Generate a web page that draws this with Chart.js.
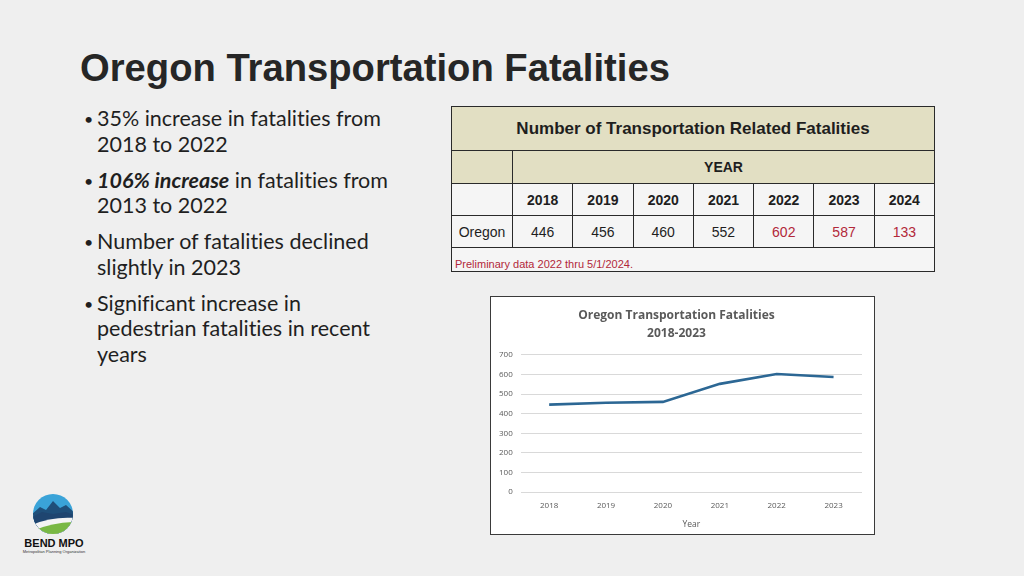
<!DOCTYPE html>
<html>
<head>
<meta charset="utf-8">
<script src="https://cdn.jsdelivr.net/npm/chart.js@4/dist/chart.umd.min.js"></script>
<style>
  html, body { margin: 0; padding: 0; }
  body { width: 1024px; height: 576px; background: #efefef; position: relative; overflow: hidden; font-family: "Liberation Sans", Arial, sans-serif; }
  h1 { position: absolute; left: 80px; top: 46px; margin: 0; font-size: 38.2px; font-weight: bold; color: #262626; }
  ul.points { position: absolute; left: 76px; top: 106px; width: 312px; margin: 0; padding: 0; list-style: none; font-family: Lato, "Open Sans", sans-serif; font-size: 21.5px; line-height: 25.6px; color: #1f1f1f; font-variant-ligatures: none; }
  ul.points li { position: relative; padding-left: 21px; margin-bottom: 10.4px; }
  ul.points li::before { content: "\2022"; position: absolute; left: 8px; top: 0; font-size: 16px; }
  ul.points .em { font-weight: bold; font-style: italic; }
  table.fat { position: absolute; left: 451px; top: 106px; width: 484px; border-collapse: collapse; font-family: "Liberation Sans", Arial, sans-serif; table-layout: fixed; }
  table.fat td { border: 1.5px solid #2a2a2a; text-align: center; padding: 0; font-size: 14px; color: #1e1e1e; background: #f5f5f5; }
  table.fat tr.head td { background: #e2dfc3; height: 43px; font-weight: bold; font-size: 17px; }
  table.fat tr.yr td { background: #e2dfc3; height: 32px; font-weight: bold; font-size: 14px; }
  table.fat tr.years td { height: 31px; font-weight: bold; }
  table.fat tr.vals td { height: 31px; }
  table.fat td.red { color: #b2283a; }
  table.fat tr.note td { height: 22px; text-align: left; font-size: 11px; color: #b2283a; padding-left: 3px; vertical-align: bottom; padding-bottom: 1px; }
  #box { position: absolute; left: 490px; top: 296px; width: 383px; height: 237px; background: #fff; border: 1.5px solid #3a3a3a; }
  #box canvas { position: absolute; left: 0; top: 0; }
  #logo { position: absolute; left: 20px; top: 492px; }
</style>
</head>
<body>
<h1>Oregon Transportation Fatalities</h1>
<ul class="points">
  <li>35% increase in fatalities from 2018 to 2022</li>
  <li><span class="em">106% increase</span> in fatalities from 2013 to 2022</li>
  <li>Number of fatalities declined slightly in 2023</li>
  <li>Significant increase in pedestrian fatalities in recent years</li>
</ul>

<table class="fat" id="fatTable"></table>

<div id="box"><canvas id="lineChart" width="383" height="237"></canvas></div>

<svg id="logo" width="68" height="62" viewBox="0 0 68 62">
  <defs><clipPath id="c"><circle cx="33" cy="22" r="20"/></clipPath></defs>
  <g clip-path="url(#c)">
    <rect x="0" y="0" width="68" height="44" fill="#3aa3d8"/>
    <path d="M10 24 L20 15 L26 18 L33 9 L40 16 L46 13 L56 22 L56 44 L10 44 Z" fill="#1f4f7a"/>
    <path d="M10 26 L22 20 L33 22 L46 20 L56 24 L56 44 L10 44 Z" fill="#1f4570"/>
    <path d="M10 34 Q30 24 56 26 L56 44 L10 44 Z" fill="#f4f4f4"/>
    <path d="M10 40 Q32 30 56 30 L56 44 L10 44 Z" fill="#79b844"/>
  </g>
  <text x="34" y="55" text-anchor="middle" font-family="Liberation Sans, Arial" font-weight="bold" font-size="11" fill="#111">BEND MPO</text>
  <text x="34" y="61" text-anchor="middle" font-family="Liberation Sans, Arial" font-size="4" fill="#333">Metropolitan Planning Organization</text>
</svg>

<script>
// table data
const tableYears = ['2018', '2019', '2020', '2021', '2022', '2023', '2024'];
const tableValues = [446, 456, 460, 552, 602, 587, 133];
const preliminaryYears = ['2022', '2023', '2024'];

// chart data
const chartYears = ['2018', '2019', '2020', '2021', '2022', '2023'];
const chartValues = [446, 456, 460, 552, 602, 587];
const yTicks = [0, 100, 200, 300, 400, 500, 600, 700];

// Build table
const table = document.getElementById('fatTable');
table.innerHTML = `
  <colgroup><col style="width:61px">${tableYears.map(() => '<col>').join('')}</colgroup>
  <tr class="head"><td colspan="8">Number of Transportation Related Fatalities</td></tr>
  <tr class="yr"><td></td><td colspan="7">YEAR</td></tr>
  <tr class="years"><td></td>${tableYears.map(y => `<td>${y}</td>`).join('')}</tr>
  <tr class="vals"><td>Oregon</td>${tableValues.map((v, i) => `<td class="${preliminaryYears.includes(tableYears[i]) ? 'red' : ''}">${v}</td>`).join('')}</tr>
  <tr class="note"><td colspan="8">Preliminary data 2022 thru 5/1/2024.</td></tr>
`;

// Line chart
const ctx = document.getElementById('lineChart').getContext('2d');
new Chart(ctx, {
  type: 'line',
  data: {
    labels: chartYears,
    datasets: [{
      label: 'Fatalities',
      data: chartValues,
      borderColor: '#2c6794',
      borderWidth: 2.6,
      pointRadius: 0,
      tension: 0,
      fill: false
    }]
  },
  options: {
    responsive: false,
    animation: false,
    layout: { padding: { left: 0, right: 12, top: 8, bottom: 4 } },
    plugins: {
      legend: { display: false },
      tooltip: { enabled: false },
      title: {
        display: true,
        text: ['Oregon Transportation Fatalities', '2018-2023'],
        color: '#595959',
        font: { family: 'Open Sans', size: 12, weight: 'bold', lineHeight: 1.45 },
        padding: { top: 2, bottom: 13 }
      }
    },
    scales: {
      x: {
        offset: true,
        grid: { display: false },
        border: { display: false },
        ticks: { color: '#595959', font: { family: 'Open Sans', size: 8 }, padding: 1 },
        title: { display: true, text: 'Year', color: '#595959', font: { family: 'Open Sans', size: 8.5 }, padding: { top: 8, bottom: 0 } }
      },
      y: {
        min: 0,
        max: 700,
        afterBuildTicks: axis => { axis.ticks = yTicks.map(v => ({ value: v })); },
        grid: { color: '#d9d9d9', lineWidth: 1, drawTicks: false },
        border: { display: false },
        ticks: { color: '#595959', font: { family: 'Open Sans', size: 8 }, padding: 8 }
      }
    }
  }
});
</script>
</body>
</html>
